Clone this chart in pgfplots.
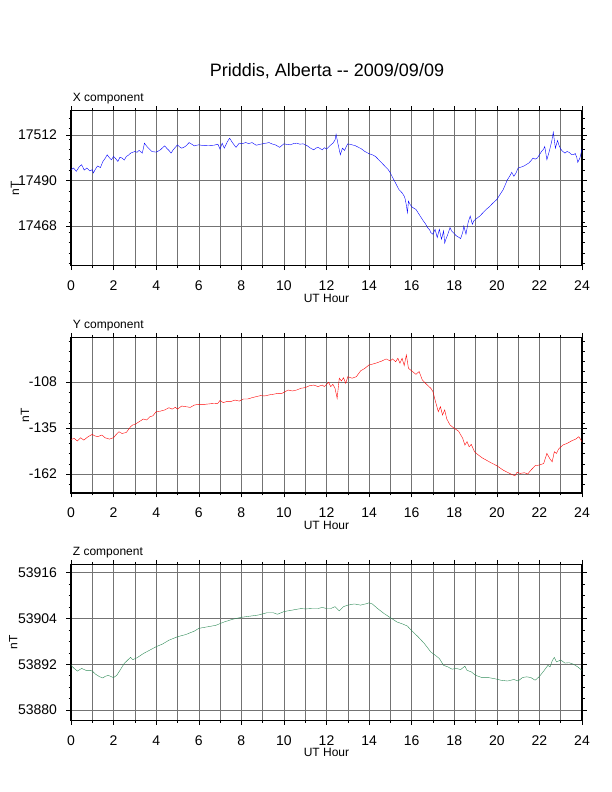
\documentclass[border=0pt]{standalone}
\usepackage{pgfplots}
\pgfplotsset{compat=1.18}
\usepackage{fontspec}
\setmainfont{Liberation Sans}
\definecolor{zgreen}{RGB}{46,139,87}

\pgfplotsset{
  gmtpanel/.style={
    scale only axis,
    anchor=south west,
    width=511pt,
    xmin=0, xmax=24,
    xtick={0,2,...,24},
    minor xtick={1,3,...,23},
    tick align=outside,
    major tick length=4.5pt,
    minor tick length=2.5pt,
    tick style={black, line width=0.5pt},
    axis line style={line width=1.3pt},
    xmajorgrids, xminorgrids, ymajorgrids,
    major grid style={black!55, line width=0.5pt},
    minor grid style={black!55, line width=0.5pt},
    scaled y ticks=false,
    scaled x ticks=false,
    /pgf/number format/assume math mode=true,
    /pgf/number format/fixed,
    /pgf/number format/precision=0,
    /pgf/number format/1000 sep={},
    tick label style={font=\fontsize{14}{16}\selectfont},
    xticklabel style={anchor=base, inner sep=0pt, yshift=-20.3pt},
    yticklabel style={anchor=east, inner sep=0pt, xshift=-9.3pt},
    label style={font=\fontsize{12}{14}\selectfont},
    ylabel={nT},
    xlabel={UT Hour},
    title style={at={(axis description cs:0,1)}, anchor=base west, inner sep=0pt, xshift=1.7pt, yshift=2.8pt, font=\fontsize{12}{14}\selectfont},
  }
}

\begin{document}
\begin{tikzpicture}
\path (0pt,0pt) rectangle (612pt,792pt);
\node[anchor=base, font=\fontsize{18}{21}\selectfont, inner sep=0pt] at (327pt,715.3pt) {Priddis, Alberta -{}- 2009/09/09};

% ---------------- X component ----------------
\begin{axis}[gmtpanel,
  at={(71pt,526.3pt)}, height=155pt,
  title={X component},
  ymin=17448.8, ymax=17523.7,
  ytick={17468,17490,17512},
  minor ytick={17450,17455,...,17520},
  xlabel style={at={(axis description cs:0.5,0)}, anchor=base, inner sep=0pt, yshift=-37pt},
  ylabel style={at={([xshift=-56pt]axis description cs:0,0.5)}, anchor=center, inner sep=0pt},
]
\addplot[blue, line width=0.4pt] table {
0.00 17495.2
0.12 17496.0
0.25 17494.4
0.38 17496.5
0.50 17497.6
0.62 17495.0
0.75 17496.0
0.88 17494.6
1.00 17495.2
1.05 17493.6
1.15 17495.5
1.25 17497.0
1.38 17496.2
1.50 17499.2
1.60 17500.6
1.70 17502.4
1.80 17501.0
1.90 17500.0
2.00 17501.6
2.10 17500.5
2.20 17499.2
2.30 17501.2
2.40 17500.8
2.50 17499.8
2.60 17501.6
2.70 17502.2
2.80 17503.2
2.90 17503.6
3.00 17504.0
3.10 17503.6
3.20 17504.5
3.35 17503.2
3.45 17508.0
3.52 17507.0
3.60 17506.0
3.70 17505.0
3.80 17504.0
3.90 17503.8
4.00 17503.7
4.10 17504.2
4.20 17504.8
4.30 17505.8
4.40 17506.7
4.50 17505.5
4.60 17504.5
4.70 17503.2
4.80 17504.8
4.90 17506.0
5.00 17507.2
5.10 17506.2
5.20 17505.6
5.30 17506.0
5.40 17506.7
5.55 17508.3
5.70 17507.3
5.80 17506.7
5.90 17507.0
6.00 17507.2
6.25 17506.8
6.50 17506.9
6.70 17507.0
6.90 17507.5
7.00 17505.1
7.10 17508.0
7.20 17505.6
7.35 17508.8
7.45 17510.4
7.60 17508.0
7.75 17506.0
7.90 17508.0
8.05 17507.8
8.20 17508.3
8.35 17507.8
8.50 17508.3
8.70 17507.0
8.85 17507.4
9.00 17507.7
9.15 17508.0
9.30 17508.3
9.45 17507.6
9.60 17507.2
9.80 17506.0
10.00 17507.7
10.15 17507.4
10.30 17507.2
10.45 17507.8
10.60 17508.0
10.75 17507.5
10.90 17507.7
11.00 17507.2
11.10 17506.7
11.25 17505.6
11.40 17504.8
11.50 17505.6
11.60 17506.0
11.70 17505.4
11.80 17504.8
11.90 17505.8
12.00 17505.1
12.15 17506.7
12.30 17508.0
12.40 17509.5
12.45 17512.3
12.55 17507.2
12.65 17502.4
12.75 17505.6
12.85 17504.5
12.92 17506.2
13.00 17507.7
13.20 17507.2
13.35 17506.8
13.50 17506.0
13.65 17505.2
13.80 17504.0
14.00 17502.9
14.15 17502.4
14.30 17501.6
14.45 17500.0
14.60 17498.4
14.75 17496.8
14.90 17495.2
15.00 17493.6
15.10 17491.5
15.20 17489.6
15.30 17487.6
15.40 17485.6
15.55 17484.0
15.65 17482.4
15.70 17480.8
15.75 17478.0
15.80 17474.4
15.85 17480.0
15.92 17478.5
16.00 17477.3
16.10 17476.6
16.20 17476.0
16.30 17474.4
16.40 17472.8
16.55 17470.4
16.65 17469.0
16.75 17467.2
16.85 17466.0
16.90 17464.8
17.00 17464.0
17.10 17466.4
17.20 17462.4
17.30 17466.4
17.40 17461.6
17.50 17465.6
17.55 17459.7
17.62 17462.0
17.70 17464.0
17.80 17467.2
17.88 17465.5
17.95 17464.8
18.10 17463.2
18.20 17462.6
18.30 17461.9
18.40 17465.0
18.45 17468.0
18.55 17464.0
18.65 17469.6
18.75 17472.8
18.85 17468.8
18.92 17470.5
19.00 17471.2
19.10 17472.0
19.20 17472.8
19.35 17474.4
19.50 17476.0
19.65 17477.3
19.80 17478.9
20.00 17480.8
20.15 17483.2
20.30 17485.6
20.40 17488.0
20.50 17490.4
20.60 17492.0
20.70 17493.9
20.80 17492.0
20.90 17493.6
21.00 17496.0
21.15 17496.5
21.30 17497.1
21.40 17497.8
21.50 17498.4
21.60 17499.5
21.70 17500.8
21.80 17500.3
21.90 17500.8
22.00 17502.4
22.10 17504.0
22.20 17505.2
22.25 17506.4
22.35 17500.0
22.42 17502.5
22.50 17505.6
22.58 17509.0
22.65 17513.3
22.75 17505.6
22.85 17509.3
22.92 17507.0
23.00 17505.1
23.10 17504.0
23.20 17503.2
23.30 17504.0
23.40 17503.5
23.50 17502.6
23.60 17502.4
23.68 17503.0
23.75 17501.3
23.80 17498.7
23.90 17500.8
24.00 17505.1
};
\end{axis}

% ---------------- Y component ----------------
\begin{axis}[gmtpanel,
  at={(71pt,299pt)}, height=155.7pt,
  title={Y component},
  ymin=-173.1, ymax=-81.8,
  ytick={-162,-135,-108},
  minor ytick={-168,-162,...,-84},
  xlabel style={at={(axis description cs:0.5,0)}, anchor=base, inner sep=0pt, yshift=-36.5pt},
  ylabel style={at={([xshift=-46pt]axis description cs:0,0.5)}, anchor=center, inner sep=0pt},
]
\addplot[red, line width=0.4pt] table {
0.00 -141.7
0.15 -141.1
0.30 -142.6
0.45 -140.7
0.60 -142.1
0.80 -140.1
1.00 -138.7
1.10 -139.5
1.25 -140.1
1.45 -139.1
1.60 -140.7
1.80 -141.5
2.00 -140.7
2.10 -139.1
2.25 -137.2
2.40 -138.2
2.60 -137.6
2.80 -134.2
2.90 -133.2
3.00 -132.9
3.20 -131.3
3.40 -129.7
3.55 -130.3
3.70 -128.4
3.85 -127.8
4.00 -125.4
4.20 -125.1
4.40 -124.4
4.60 -123.1
4.75 -123.9
4.90 -122.9
5.00 -123.9
5.20 -122.1
5.40 -122.5
5.60 -122.9
5.80 -121.5
6.00 -121.1
6.30 -121.1
6.60 -120.7
6.90 -120.5
7.00 -118.8
7.15 -120.1
7.30 -119.5
7.50 -119.5
7.70 -118.6
7.90 -119.2
8.10 -118.0
8.30 -118.0
8.50 -117.2
8.70 -116.6
8.90 -116.0
9.10 -116.2
9.30 -115.6
9.50 -115.2
9.70 -114.7
9.90 -114.7
10.00 -114.1
10.20 -112.7
10.40 -113.3
10.60 -112.7
10.80 -111.7
11.00 -111.3
11.20 -110.2
11.40 -109.8
11.60 -110.7
11.80 -109.8
11.90 -110.7
12.00 -109.4
12.10 -108.2
12.20 -110.7
12.30 -109.4
12.40 -111.7
12.50 -117.6
12.60 -105.8
12.70 -107.4
12.80 -105.5
12.90 -108.8
13.00 -104.9
13.20 -105.8
13.40 -104.9
13.60 -101.5
13.80 -100.0
14.00 -98.0
14.20 -97.4
14.40 -96.6
14.60 -95.7
14.80 -94.5
15.00 -95.7
15.10 -94.5
15.25 -96.1
15.35 -94.1
15.45 -97.0
15.55 -94.1
15.65 -98.4
15.75 -92.1
15.85 -100.0
16.00 -101.5
16.20 -103.5
16.35 -101.9
16.50 -106.8
16.70 -109.4
16.90 -111.7
17.00 -113.7
17.10 -118.6
17.25 -125.4
17.35 -122.5
17.45 -127.4
17.55 -124.4
17.65 -129.7
17.80 -133.2
18.00 -135.2
18.20 -136.8
18.40 -141.1
18.50 -145.0
18.60 -143.0
18.70 -146.0
18.80 -144.6
18.95 -148.9
19.10 -150.5
19.30 -152.4
19.50 -153.8
19.70 -155.2
20.00 -157.1
20.30 -159.7
20.50 -161.0
20.70 -162.2
20.85 -163.0
20.95 -161.0
21.10 -161.6
21.30 -161.2
21.45 -162.0
21.60 -159.7
21.80 -157.1
22.00 -156.7
22.20 -155.8
22.35 -149.9
22.50 -153.2
22.60 -154.8
22.70 -148.9
22.80 -149.9
22.90 -147.3
23.10 -145.0
23.30 -144.0
23.50 -142.6
23.70 -141.5
23.85 -140.1
24.00 -143.0
};
\end{axis}

% ---------------- Z component ----------------
\begin{axis}[gmtpanel,
  at={(71pt,71.7pt)}, height=156pt,
  title={Z component},
  ymin=53877.3, ymax=53918.2,
  ytick={53880,53892,53904,53916},
  minor ytick={53877,53880,...,53918},
  xlabel style={at={(axis description cs:0.5,0)}, anchor=base, inner sep=0pt, yshift=-36.5pt},
  ylabel style={at={([xshift=-57.7pt]axis description cs:0,0.5)}, anchor=center, inner sep=0pt},
]
\addplot[zgreen, line width=0.4pt] table {
0.00 53891.7
0.15 53890.9
0.30 53890.2
0.50 53890.9
0.70 53890.4
0.90 53890.4
1.00 53890.2
1.15 53889.4
1.35 53888.7
1.50 53888.4
1.60 53888.8
1.75 53889.1
1.90 53888.7
2.00 53888.5
2.15 53889.1
2.30 53890.4
2.50 53892.2
2.70 53893.3
2.80 53893.8
2.90 53893.2
3.10 53893.7
3.40 53894.8
3.70 53895.7
4.00 53896.6
4.30 53897.3
4.60 53898.3
5.00 53899.2
5.40 53899.8
5.80 53900.7
6.00 53901.4
6.40 53901.8
6.80 53902.2
7.20 53903.1
7.60 53903.8
8.00 53904.3
8.40 53904.6
8.80 53904.9
9.20 53905.5
9.50 53905.5
9.70 53905.1
10.00 53905.8
10.40 53906.2
10.80 53906.6
11.00 53906.5
11.30 53906.6
11.60 53906.6
11.80 53906.9
12.00 53906.6
12.20 53906.6
12.40 53907.1
12.60 53906.0
12.80 53907.1
13.00 53907.5
13.30 53907.8
13.60 53907.5
13.90 53907.9
14.00 53908.1
14.15 53907.8
14.40 53906.6
14.70 53905.3
15.00 53904.2
15.30 53903.1
15.60 53902.5
15.80 53902.0
16.00 53900.8
16.30 53899.2
16.60 53897.4
16.90 53895.2
17.10 53894.4
17.30 53893.5
17.50 53891.7
17.70 53891.3
17.90 53890.7
18.10 53890.9
18.30 53890.6
18.50 53891.5
18.60 53890.4
18.80 53890.0
19.00 53889.1
19.30 53888.5
19.60 53888.5
19.90 53888.2
20.20 53887.8
20.50 53887.6
20.80 53888.0
21.00 53887.6
21.20 53888.5
21.40 53888.7
21.60 53888.5
21.80 53887.8
22.00 53888.8
22.20 53890.2
22.40 53891.7
22.50 53891.3
22.60 53892.9
22.70 53893.8
22.80 53892.6
23.00 53893.1
23.20 53892.3
23.40 53892.4
23.60 53892.0
23.80 53891.3
24.00 53890.4
};
\end{axis}
\end{tikzpicture}
\end{document}
